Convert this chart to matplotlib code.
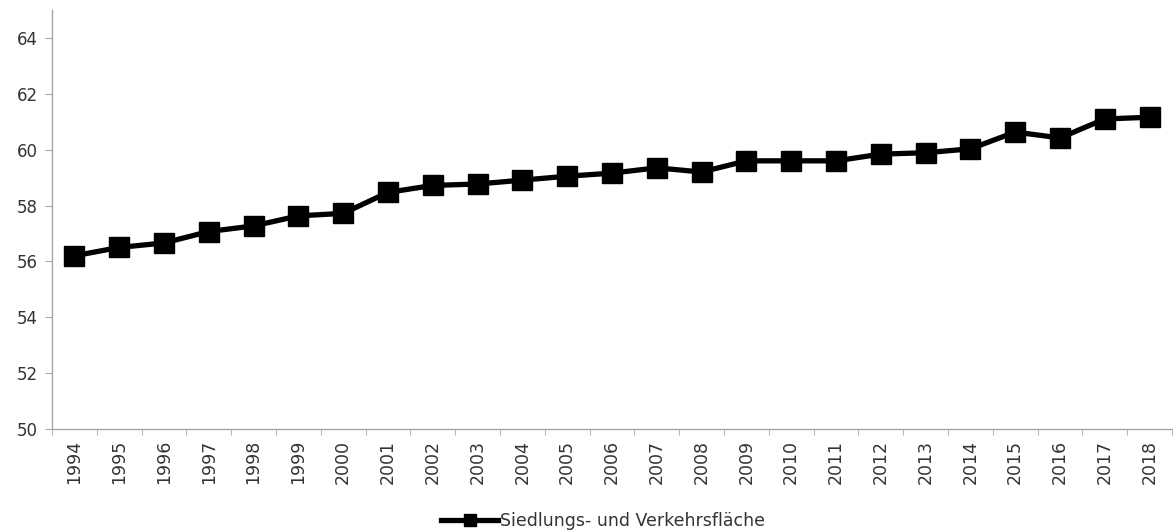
import matplotlib
matplotlib.use("Agg")
import matplotlib.pyplot as plt
import numpy as np

plt.rcParams['font.family'] = ['DejaVu Sans']

years = [str(y) for y in range(1994, 2019)]
values = [56.2, 56.5, 56.66, 57.07, 57.27, 57.63, 57.72, 58.47, 58.72, 58.77,
          58.91, 59.05, 59.16, 59.35, 59.2, 59.6, 59.6, 59.6, 59.84, 59.89,
          60.03, 60.63, 60.42, 61.1, 61.16]
yticks = [50, 52, 54, 56, 58, 60, 62, 64]
series_name = "Siedlungs- und Verkehrsfläche"

fig = plt.figure(figsize=(11.73, 5.32), dpi=100)
ax = fig.add_axes([52/1173, 1 - 429/532, 1120/1173, 419/532])

x = np.arange(len(years))
ax.plot(x, values, color="black", linewidth=3.8, marker="s", markersize=15,
        markerfacecolor="black", markeredgecolor="black", label=series_name)

ax.set_xlim(-0.5, len(years) - 0.5)
ax.set_ylim(50, 65)
ax.set_yticks(yticks)
ax.set_xticks(x)
ax.set_xticklabels(years, rotation=90)
ax.set_xticks(np.arange(len(years) + 1) - 0.5, minor=True)

for s in ["top", "right"]:
    ax.spines[s].set_visible(False)
for s in ["left", "bottom"]:
    ax.spines[s].set_color("#a6a6a6")
    ax.spines[s].set_linewidth(1.0)

ax.tick_params(axis="y", length=5, color="#a6a6a6", labelsize=12, labelcolor="#333333", pad=5)
ax.tick_params(axis="x", which="major", length=0, labelsize=12.5, labelcolor="#333333", pad=8)
ax.tick_params(axis="x", which="minor", length=4, color="#a6a6a6")

leg = fig.legend(loc="center", bbox_to_anchor=(603/1173, 1 - 521/532), frameon=False,
                 fontsize=12.5, handlelength=3.3, handletextpad=0.1, markerscale=0.6)
for t in leg.get_texts():
    t.set_color("#333333")

fig.savefig("out.png", dpi=100)
